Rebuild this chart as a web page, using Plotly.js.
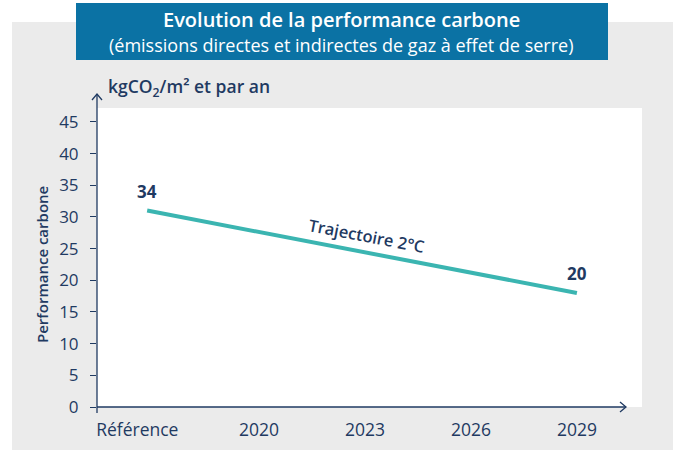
<!DOCTYPE html>
<html>
<head>
<meta charset="utf-8">
<script src="https://cdn.plot.ly/plotly-3.0.1.min.js"></script>
<style>html,body{margin:0;padding:0;background:#fff;}</style>
</head>
<body>
<div id="chart" style="width:673px;height:450px;"></div>
<script>
// ---- data ----
const tickPositions = [2016.55, 2020, 2023, 2026, 2029];
const tickLabels = ["Référence", "2020", "2023", "2026", "2029"];
const lineX = [2016.83, 2029];
const lineY = [31, 18];
const pointLabels = ["34", "20"];
const seriesName = "Trajectoire 2°C";
const yTicks = [0, 5, 10, 15, 20, 25, 30, 35, 40, 45];

// ---- layout helpers (pixel -> paper) ----
const W = 673, H = 450;
const L = 97, R = 626, T = 94, B = 407;
const px = v => (v - L) / (R - L);
const py = v => (B - v) / (B - T);

const navy = "#1f3a62";
const teal = "#3bb5b1";
const FONT = "Open Sans, sans-serif";

const trace = {
  x: lineX, y: lineY, type: "scatter", mode: "lines",
  line: {color: teal, width: 4}, hoverinfo: "skip", showlegend: false
};

const labelX = 2023.03;
const labelY = lineY[0] + (lineY[1] - lineY[0]) * ((labelX - lineX[0]) / (lineX[1] - lineX[0]));

const annotations = [
  {xref: "paper", yref: "paper", x: px(341), y: py(19), text: "Evolution de la performance carbone",
   showarrow: false, font: {family: FONT, size: 20, weight: 600, color: "#ffffff"}, xanchor: "center", yanchor: "middle"},
  {xref: "paper", yref: "paper", x: px(341), y: py(45), text: "(émissions directes et indirectes de gaz à effet de serre)",
   showarrow: false, font: {family: FONT, size: 18, color: "#ffffff"}, xanchor: "center", yanchor: "middle"},
  {xref: "paper", yref: "paper", x: px(106), y: py(88), text: "kgCO<sub>2</sub>/m² et par an",
   showarrow: false, font: {family: FONT, size: 17.5, weight: 600, color: navy}, xanchor: "left", yanchor: "middle"},
  {xref: "paper", yref: "paper", x: px(42), y: py(265), text: "Performance carbone", textangle: -90,
   showarrow: false, font: {family: FONT, size: 15, weight: 600, color: navy}, xanchor: "center", yanchor: "middle"},
  {xref: "x", yref: "y", x: labelX, y: labelY, yshift: 17,
   text: seriesName, textangle: 10.8,
   showarrow: false, font: {family: FONT, size: 16.5, weight: 600, color: navy}, xanchor: "center", yanchor: "middle"}
];
lineX.forEach((xv, i) => {
  annotations.push({xref: "x", yref: "y", x: xv, y: lineY[i], yshift: 19, text: pointLabels[i],
    showarrow: false, font: {family: FONT, size: 17, weight: 700, color: navy}, xanchor: "center", yanchor: "middle"});
});

const shapes = [
  {type: "rect", xref: "paper", yref: "paper", x0: px(12), x1: px(673), y0: py(22), y1: py(450),
   fillcolor: "#ebebeb", line: {width: 0}, layer: "below"},
  {type: "rect", xref: "paper", yref: "paper", x0: px(76), x1: px(608), y0: py(3), y1: py(60),
   fillcolor: "#0b72a4", line: {width: 0}, layer: "below"},
  {type: "rect", xref: "paper", yref: "paper", x0: px(97), x1: px(642), y0: py(108), y1: py(407),
   fillcolor: "#ffffff", line: {width: 0}, layer: "below"},
  // axes lines
  {type: "line", xref: "paper", yref: "paper", x0: 0, x1: 1, y0: 0, y1: 0, line: {color: navy, width: 1.3}},
  {type: "line", xref: "paper", yref: "paper", x0: 0, x1: 0, y0: py(413), y1: 1, line: {color: navy, width: 1.3}},
  // arrow heads
  {type: "path", xref: "paper", yref: "paper", xsizemode: "pixel", ysizemode: "pixel", xanchor: 1, yanchor: 0,
   path: "M -6,5 L 0,0 L -6,-5", line: {color: navy, width: 1.3}},
  {type: "path", xref: "paper", yref: "paper", xsizemode: "pixel", ysizemode: "pixel", xanchor: 0, yanchor: 1,
   path: "M -5,-6 L 0,0 L 5,-6", line: {color: navy, width: 1.3}}
];

const layout = {
  width: W, height: H,
  margin: {l: L, r: W - R, t: T, b: H - B, pad: 0},
  paper_bgcolor: "#ffffff", plot_bgcolor: "rgba(0,0,0,0)",
  showlegend: false,
  xaxis: {
    range: [2015.41, 2030.39], tickvals: tickPositions, ticktext: tickLabels,
    showgrid: false, zeroline: false, showline: false, ticks: "",
    tickfont: {family: FONT, size: 17.5, color: navy}, ticklabelstandoff: 10, fixedrange: true
  },
  yaxis: {
    range: [0, 49.4], tickvals: yTicks, showgrid: false, zeroline: false, showline: false,
    ticks: "outside", ticklen: 6, tickcolor: navy, tickwidth: 1,
    tickfont: {family: FONT, size: 17, color: navy}, ticklabelstandoff: 8, fixedrange: true
  },
  shapes: shapes,
  annotations: annotations
};

Plotly.newPlot("chart", [trace], layout, {displayModeBar: false, staticPlot: true});
</script>
</body>
</html>
